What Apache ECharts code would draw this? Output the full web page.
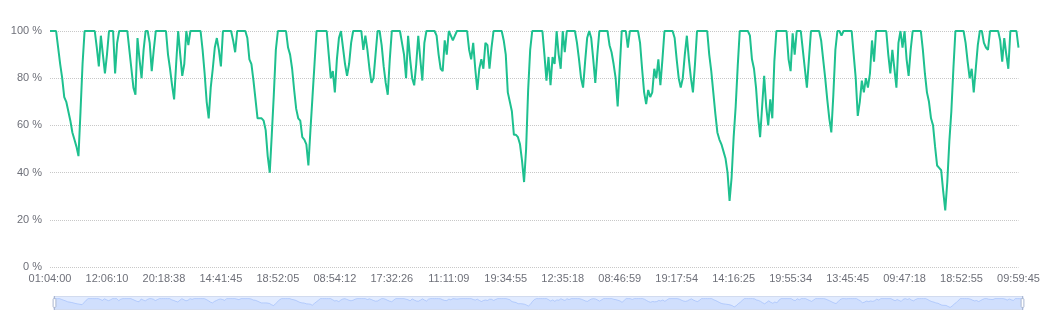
<!DOCTYPE html>
<html>
<head>
<meta charset="utf-8">
<script src="https://cdn.jsdelivr.net/npm/echarts@6/dist/echarts.min.js"></script>
<style>
html,body{margin:0;padding:0;background:#fff;}
#chart{width:1050px;height:312px;}
</style>
</head>
<body>
<div id="chart"></div>
<script>
// Tick labels shown along the x axis (every 28th sample)
const tickLabels = ['01:04:00','12:06:10','20:18:38','14:41:45','18:52:05','08:54:12','17:32:26','11:11:09','19:34:55','12:35:18','08:46:59','19:17:54','14:16:25','19:55:34','13:45:45','09:47:18','18:52:55','09:59:45'];
const labelStep = 28;

// Availability values (%)
const values = [
100,100,100,100,93,86,80,72,70,66,62,57,54,51,47,66,86,100,
100,100,100,100,100,
93,85,98,90,82,90,100,100,100,82,95,100,
100,100,100,100,
92,84,76,73,97,88,80,92,100,100,95,83,92,100,
100,100,100,100,100,
90,84,77,71,86,100,90,81,86,100,94,100,
100,100,100,100,100,
92,82,70,63,76,84,93,97,92,85,100,
100,100,100,100,
96,91,100,
100,100,100,100,
97,88,86,79,71,63,63,63,62,58,47,40,56,73,92,100,
100,100,100,100,
93,90,84,75,67,63,62,55,54,52,43,58,72,86,100,
100,100,100,100,100,
90,80,83,74,88,97,100,93,86,81,86,95,100,
100,100,100,100,
92,98,92,84,78,80,90,100,100,94,85,78,73,88,100,
100,100,100,100,
95,90,80,98,88,80,77,86,98,88,79,95,100,
100,100,100,100,
98,90,84,83,96,90,100,98,96,98,100,
100,100,100,100,100,
92,88,95,84,75,84,88,84,95,94,84,93,100,
100,100,100,100,
96,90,74,70,66,56,56,55,52,45,36,50,75,92,100,
100,100,100,100,100,
90,79,89,77,89,86,100,90,84,100,91,100,
100,100,100,100,
95,88,80,76,87,97,100,97,88,78,90,100,
100,100,100,100,
94,91,86,80,68,84,100,
100,100,93,100,100,100,100,100,
95,84,74,69,75,72,74,84,80,88,77,88,100,
100,100,100,100,
97,88,80,76,80,90,98,88,80,74,86,100,
100,100,100,100,100,
90,83,74,65,57,54,52,49,46,40,28,38,55,68,85,100,
100,100,100,100,
98,88,84,76,64,55,68,81,68,60,71,63,87,100,
100,100,100,100,100,
88,83,99,90,100,100,100,92,84,76,88,100,
100,100,100,100,
96,88,80,71,63,57,73,92,100,
100,98,100,100,100,100,100,
90,80,64,70,79,74,80,76,82,96,87,100,
100,100,100,100,100,
90,82,92,84,76,95,100,93,100,88,81,92,100,
100,100,100,100,
92,82,74,70,63,60,51,43,42,41,32,24,36,53,66,84,100,
100,100,100,100,
95,87,80,84,74,84,94,100,100,95,93,92,100,
100,100,100,100,
96,87,97,90,84,100,100,100,100,93
];

const chart = echarts.init(document.getElementById('chart'), null, {renderer: 'canvas'});
const seriesData = values.map((v, i) => [i, v]);
const lastIndex = values.length - 1;
const axisFont = 'Liberation Sans, Arial, sans-serif';

chart.setOption({
  animation: false,
  grid: {left: 50, right: 31.5, top: 31, bottom: 45, containLabel: false},
  xAxis: {
    type: 'value',
    min: 0,
    max: lastIndex,
    interval: labelStep,
    axisLine: {show: false},
    axisTick: {show: false},
    splitLine: {show: false},
    axisLabel: {
      color: '#6e7079',
      fontSize: 11,
      fontFamily: axisFont,
      margin: 6,
      showMinLabel: true,
      showMaxLabel: true,
      formatter: function (v) {
        const k = Math.round(v / labelStep);
        return tickLabels[k] !== undefined ? tickLabels[k] : '';
      }
    }
  },
  yAxis: {
    type: 'value',
    min: 0,
    max: 100,
    interval: 20,
    axisLine: {show: false},
    axisTick: {show: false},
    splitLine: {lineStyle: {type: 'dotted', color: '#c8c8c8', width: 1}},
    axisLabel: {color: '#6e7079', fontSize: 11, fontFamily: axisFont, margin: 8, formatter: '{value} %'}
  },
  dataZoom: [{
    type: 'slider',
    xAxisIndex: 0,
    start: 0,
    end: 100,
    left: 51,
    right: 29,
    bottom: 2,
    height: 14,
    showDetail: false,
    brushSelect: false,
    borderColor: '#d2dbee',
    fillerColor: 'rgba(135,175,274,0.25)',
    backgroundColor: 'rgba(47,69,84,0)',
    dataBackground: {
      lineStyle: {color: '#d2dbee', width: 0.5},
      areaStyle: {color: '#d2dbee', opacity: 0.2}
    },
    selectedDataBackground: {
      lineStyle: {color: '#8fb0f7', width: 0.5},
      areaStyle: {color: '#8fb0f7', opacity: 0.2}
    },
    handleSize: '100%',
    handleStyle: {color: '#fff', borderColor: '#acb8d1'}
  }],
  series: [{
    type: 'line',
    data: seriesData,
    showSymbol: false,
    symbol: 'none',
    lineStyle: {color: '#1ec08f', width: 2},
    itemStyle: {color: '#1ec08f'}
  }]
});
</script>
</body>
</html>
